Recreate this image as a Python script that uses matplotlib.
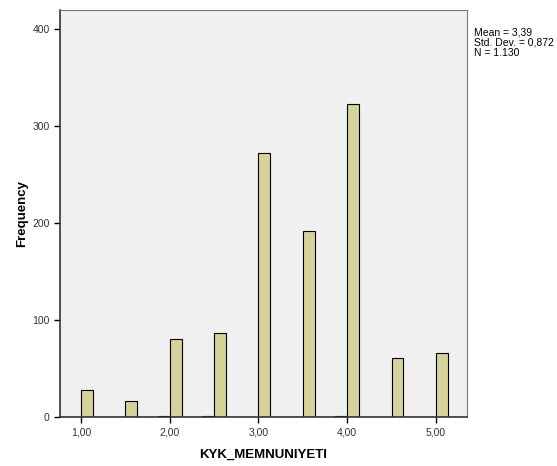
import matplotlib
matplotlib.use("Agg")
import matplotlib.pyplot as plt

# Histogram bins (left edges) and frequencies read from the SPSS output
bin_left = [1.000, 1.500, 1.867, 2.000, 2.367, 2.500, 3.000, 3.500, 3.867, 4.000, 4.500, 5.000]
freq = [28, 17, 1, 81, 1, 87, 272, 192, 1, 323, 61, 66]
bin_width = 0.133

x_ticks = [1, 2, 3, 4, 5]
x_labels = ["1,00", "2,00", "3,00", "4,00", "5,00"]
y_ticks = [0, 100, 200, 300, 400]

plt.rcParams["font.family"] = ["Liberation Sans", "DejaVu Sans"]

fig = plt.figure(figsize=(5.57, 4.66), dpi=100)
ax = fig.add_axes([0.1077, 0.105, 0.7307, 0.8735])
ax.set_facecolor("#F0F0F0")

ax.bar(bin_left, freq, width=bin_width, align="edge",
       color="#D6D29C", edgecolor="#000000", linewidth=0.8)

ax.set_xlim(0.763, 5.35)
ax.set_ylim(0, 420)
ax.set_xticks(x_ticks)
ax.set_xticklabels(x_labels)
ax.set_yticks(y_ticks)
ax.tick_params(axis="both", direction="out", length=4, width=1,
               labelsize=7.5, colors="#000000", labelcolor="#333333")

for side in ["top", "right"]:
    ax.spines[side].set_color("#777777")
    ax.spines[side].set_linewidth(0.8)
for side in ["left", "bottom"]:
    ax.spines[side].set_color("#333333")
    ax.spines[side].set_linewidth(1.2)

ax.set_xlabel("KYK_MEMNUNIYETI", fontsize=9.5, fontweight="bold", labelpad=8)
ax.set_ylabel("Frequency", fontsize=9.5, fontweight="bold", labelpad=3)

fig.text(0.851, 0.94, "Mean = 3,39\nStd. Dev. = 0,872\nN = 1.130",
         fontsize=7.5, va="top", ha="left", linespacing=1.0)

fig.savefig("out.png", dpi=100, facecolor="white")
